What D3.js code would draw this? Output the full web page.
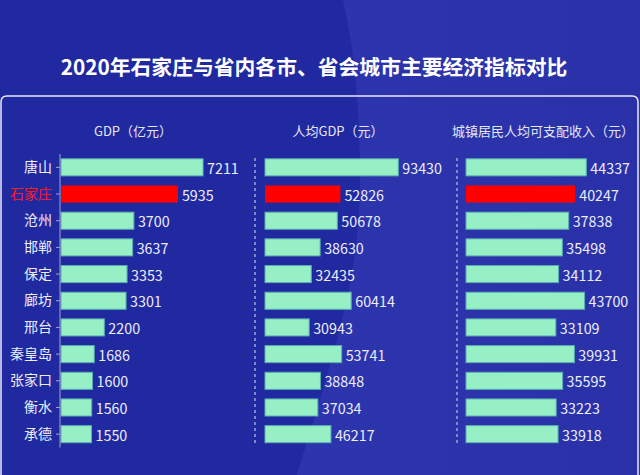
<!DOCTYPE html>
<html><head><meta charset="utf-8">
<script src="https://cdn.jsdelivr.net/npm/d3@7"></script>
<style>
html,body{margin:0;padding:0;background:#2129a0;}
svg{display:block;font-family:"Noto Sans CJK SC","Noto Sans",sans-serif;}
</style></head>
<body><svg id="c" width="640" height="475"></svg>
<script>
const title = "2020年石家庄与省内各市、省会城市主要经济指标对比";
const cities = ["唐山","石家庄","沧州","邯郸","保定","廊坊","邢台","秦皇岛","张家口","衡水","承德"];
const highlight = "石家庄";
const gdp = [7211,5935,3700,3637,3353,3301,2200,1686,1600,1560,1550];
const gdpPerCapita = [93430,52826,50678,38630,32435,60414,30943,53741,38848,37034,46217];
const urbanIncome = [44337,40247,37838,35498,34112,43700,33109,39931,35595,33223,33918];
const headers = ["GDP（亿元）","人均GDP（元）","城镇居民人均可支配收入（元）"];
const domainMax = [8000,100000,50000];

const svg = d3.select("#c");
const W = 640, H = 475;

// background
const defs = svg.append("defs");
const g1 = defs.append("linearGradient").attr("id","bgR").attr("x1","0").attr("x2","1").attr("y1","0").attr("y2","0");
g1.append("stop").attr("offset","0").attr("stop-color","#2d35ae");
g1.append("stop").attr("offset","1").attr("stop-color","#2a31a8");
svg.append("rect").attr("width",W).attr("height",H).attr("fill","#2129a0");
svg.append("path")
  .attr("d","M343,0 C352,40 358,80 360,160 C362,260 345,320 297,475 L640,475 L640,0 Z")
  .attr("fill","url(#bgR)");

// title
svg.append("text").attr("x",314).attr("y",66)
  .attr("text-anchor","middle").attr("dominant-baseline","central")
  .attr("fill","#ffffff").attr("font-size",20.8).attr("font-weight","bold")
  .text(title);

// panel frame
svg.append("path")
  .attr("d","M1,475 L1,102 Q1,96 7,96 L632,96 Q638,96 638,102 L638,475")
  .attr("fill","none").attr("stroke","#e8eaf8").attr("stroke-width",1.5);

const y = d3.scaleBand().domain(cities).range([154,447.5]).paddingInner(0.36).paddingOuter(0.18);

const panels = [
  {data:gdp, x0:61, w:157.6, hx:133, header:headers[0], max:domainMax[0]},
  {data:gdpPerCapita, x0:265, w:142.7, hx:338, header:headers[1], max:domainMax[1]},
  {data:urbanIncome, x0:466, w:135.7, hx:543, header:headers[2], max:domainMax[2]}
];

panels.forEach((p,pi)=>{
  const x = d3.scaleLinear().domain([0,p.max]).range([p.x0,p.x0+p.w]);
  const g = svg.append("g");
  g.append("text").attr("x",p.hx).attr("y",130)
    .attr("text-anchor","middle").attr("dominant-baseline","central")
    .attr("fill","#e4e6f6").attr("font-size",13).text(p.header);
  g.selectAll("rect.bar").data(p.data).join("rect")
    .attr("class","bar")
    .attr("x",x(0)).attr("y",(d,i)=>y(cities[i]))
    .attr("width",d=>x(d)-x(0)).attr("height",y.bandwidth())
    .attr("fill",(d,i)=>cities[i]===highlight?"#ff0000":"#96efc5")
    .attr("stroke",(d,i)=>cities[i]===highlight?"none":"#5aaeb0")
    .attr("stroke-width",1);
  g.selectAll("text.val").data(p.data).join("text")
    .attr("class","val")
    .attr("x",d=>x(d)+4).attr("y",(d,i)=>y(cities[i])+y.bandwidth()/2)
    .attr("dominant-baseline","central").attr("fill","#eceefa").attr("font-size",14.3)
    .text(d=>d);
});

// category axis for first panel
const axis = svg.append("g").attr("transform","translate(60,0)")
  .call(d3.axisLeft(y).tickSize(4).tickPadding(4));
axis.select(".domain").attr("stroke","#9ea3cf").attr("d","M0,154V447.5");
axis.selectAll(".tick line").attr("stroke","#9ea3cf");
axis.selectAll(".tick text").attr("font-size",14)
  .attr("font-family","'Noto Sans CJK SC',sans-serif")
  .attr("fill",d=>d===highlight?"#ff1a1a":"#eceefa");

// dashed separators
[255,457].forEach(xx=>{
  svg.append("line").attr("x1",xx).attr("x2",xx).attr("y1",158).attr("y2",446)
    .attr("stroke","#9ea3cf").attr("stroke-width",1.5).attr("stroke-dasharray","3,3");
});
</script></body></html>
